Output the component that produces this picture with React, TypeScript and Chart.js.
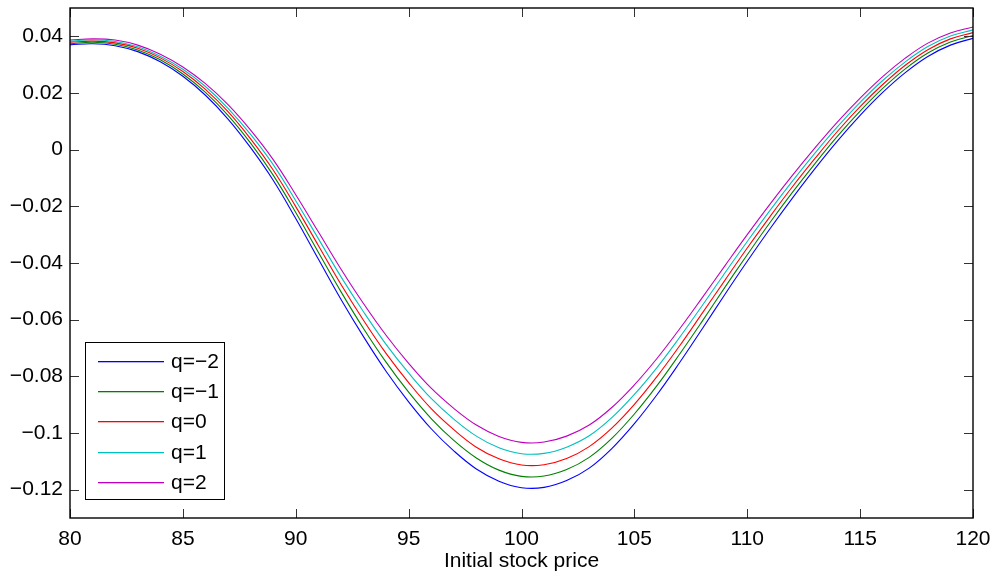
import React, { useEffect, useRef } from "react";
import { Chart, registerables } from "chart.js";

Chart.register(...registerables);

const xValues = [80, 81, 82, 83, 84, 85, 86, 87, 88, 89, 90, 91, 92, 93, 94, 95, 96, 97, 98, 99, 100, 101, 102, 103, 104, 105, 106, 107, 108, 109, 110, 111, 112, 113, 114, 115, 116, 117, 118, 119, 120];

const seriesQm2 = [0.0370, 0.0374, 0.0367, 0.0346, 0.0310, 0.0259, 0.0192, 0.0108, 0.0007, -0.0108, -0.0243, -0.0386, -0.0528, -0.0660, -0.0782, -0.0890, -0.0985, -0.1063, -0.1127, -0.1170, -0.1193, -0.1192, -0.1168, -0.1124, -0.1055, -0.0967, -0.0865, -0.0752, -0.0633, -0.0512, -0.0394, -0.0280, -0.0171, -0.0067, 0.0031, 0.0121, 0.0202, 0.0272, 0.0329, 0.0369, 0.0393];
const seriesQm1 = [0.0374, 0.0379, 0.0372, 0.0352, 0.0317, 0.0267, 0.0202, 0.0121, 0.0023, -0.0090, -0.0222, -0.0362, -0.0501, -0.0631, -0.0750, -0.0856, -0.0949, -0.1026, -0.1088, -0.1131, -0.1153, -0.1152, -0.1129, -0.1086, -0.1019, -0.0933, -0.0833, -0.0722, -0.0606, -0.0487, -0.0371, -0.0258, -0.0151, -0.0049, 0.0048, 0.0136, 0.0216, 0.0285, 0.0341, 0.0380, 0.0403];
const seriesQ0 = [0.0379, 0.0383, 0.0377, 0.0358, 0.0324, 0.0276, 0.0213, 0.0134, 0.0038, -0.0072, -0.0201, -0.0338, -0.0475, -0.0602, -0.0719, -0.0822, -0.0914, -0.0988, -0.1050, -0.1091, -0.1113, -0.1112, -0.1090, -0.1048, -0.0983, -0.0899, -0.0801, -0.0693, -0.0578, -0.0462, -0.0347, -0.0237, -0.0131, -0.0031, 0.0065, 0.0152, 0.0230, 0.0298, 0.0353, 0.0391, 0.0413];
const seriesQ1 = [0.0383, 0.0388, 0.0382, 0.0363, 0.0330, 0.0284, 0.0223, 0.0146, 0.0054, -0.0053, -0.0180, -0.0314, -0.0448, -0.0572, -0.0687, -0.0788, -0.0878, -0.0951, -0.1011, -0.1052, -0.1073, -0.1072, -0.1050, -0.1010, -0.0946, -0.0864, -0.0769, -0.0663, -0.0551, -0.0436, -0.0324, -0.0215, -0.0111, -0.0012, 0.0081, 0.0167, 0.0244, 0.0310, 0.0364, 0.0401, 0.0423];
const seriesQ2 = [0.0387, 0.0391, 0.0387, 0.0369, 0.0337, 0.0292, 0.0233, 0.0159, 0.0069, -0.0035, -0.0159, -0.0290, -0.0421, -0.0543, -0.0655, -0.0754, -0.0842, -0.0913, -0.0972, -0.1012, -0.1033, -0.1032, -0.1011, -0.0972, -0.0910, -0.0830, -0.0737, -0.0633, -0.0523, -0.0411, -0.0300, -0.0193, -0.0091, 0.0006, 0.0098, 0.0182, 0.0258, 0.0323, 0.0376, 0.0412, 0.0433];

const seriesLabels = ["q=\u22122", "q=\u22121", "q=0", "q=1", "q=2"];
const seriesColors = ["#0000ff", "#008000", "#ff0000", "#00bfbf", "#bf00bf"];
const allSeries = [seriesQm2, seriesQm1, seriesQ0, seriesQ1, seriesQ2];

const xTicks = [80, 85, 90, 95, 100, 105, 110, 115, 120];
const yTicks = [-0.12, -0.1, -0.08, -0.06, -0.04, -0.02, 0, 0.02, 0.04];
const xTitle = "Initial stock price";

const FONT = '"Liberation Sans", Arial, Helvetica, sans-serif';

function fmt(v: number): string {
  const r = Math.round(v * 1000) / 1000;
  const s = String(Math.abs(r));
  return r < 0 ? "\u2212" + s : s;
}

const framePlugin = {
  id: "matlabFrame",
  afterDraw(chart: any) {
    const ctx = chart.ctx;
    const { left, right, top, bottom } = chart.chartArea;
    const xs = chart.scales.x;
    const ys = chart.scales.y;
    ctx.save();
    ctx.strokeStyle = "#333";
    ctx.lineWidth = 1;
    const tl = 9;
    ctx.beginPath();
    for (const v of xTicks) {
      const px = Math.round(xs.getPixelForValue(v)) + 0.5;
      ctx.moveTo(px, bottom);
      ctx.lineTo(px, bottom - tl);
      ctx.moveTo(px, top);
      ctx.lineTo(px, top + tl);
    }
    for (const v of yTicks) {
      const py = Math.round(ys.getPixelForValue(v)) + 0.5;
      ctx.moveTo(left, py);
      ctx.lineTo(left + tl, py);
      ctx.moveTo(right, py);
      ctx.lineTo(right - tl, py);
    }
    ctx.stroke();
    ctx.strokeStyle = "#000";
    ctx.lineWidth = 1.4;
    ctx.strokeRect(left, top, right - left, bottom - top);

    // legend
    const lx = left + 15;
    const ly = top + 334;
    const lw = 139;
    const lh = 157;
    ctx.fillStyle = "#fff";
    ctx.fillRect(lx, ly, lw, lh);
    ctx.strokeStyle = "#000";
    ctx.lineWidth = 1;
    ctx.strokeRect(lx + 0.5, ly + 0.5, lw, lh);
    ctx.font = "21px " + FONT;
    ctx.textBaseline = "middle";
    ctx.textAlign = "left";
    seriesLabels.forEach((label, i) => {
      const cy = Math.round(ly + 19 + i * 30.2);
      ctx.fillStyle = seriesColors[i];
      ctx.fillRect(lx + 13, cy, 66, 1.3);
      ctx.fillStyle = "#000";
      ctx.fillText(label, lx + 86, cy + 1);
    });
    ctx.restore();
  },
};

export default function App() {
  const canvasRef = useRef<HTMLCanvasElement | null>(null);

  useEffect(() => {
    if (!canvasRef.current) return;
    const datasets = allSeries.map((s, i) => ({
      label: seriesLabels[i],
      data: s.map((y, j) => ({ x: xValues[j], y })),
      borderColor: seriesColors[i],
      backgroundColor: seriesColors[i],
      borderWidth: 1.1,
      pointRadius: 0,
      tension: 0.4,
      fill: false,
    }));
    const chart = new Chart(canvasRef.current, {
      type: "line",
      data: { datasets },
      options: {
        animation: false,
        responsive: false,
        maintainAspectRatio: false,
        devicePixelRatio: 1,
        layout: { padding: { top: 8, right: 22, left: 0, bottom: 0 } },
        plugins: {
          legend: { display: false },
          tooltip: { enabled: false },
        },
        scales: {
          x: {
            type: "linear",
            min: 80,
            max: 120,
            afterBuildTicks: (scale: any) => {
              scale.ticks = xTicks.map((v) => ({ value: v }));
            },
            afterFit: (scale: any) => {
              scale.height = 58;
              scale.paddingLeft = 0;
              scale.paddingRight = 0;
            },
            grid: { display: false, drawTicks: false },
            border: { display: false },
            ticks: {
              color: "#000",
              font: { family: FONT, size: 21 },
              padding: 9,
              maxRotation: 0,
              autoSkip: false,
              callback: (v: any) => String(v),
            },
            title: {
              display: true,
              text: xTitle,
              color: "#000",
              font: { family: FONT, size: 21 },
              padding: { top: 0, bottom: 2 },
            },
          },
          y: {
            type: "linear",
            min: -0.13,
            max: 0.05,
            afterBuildTicks: (scale: any) => {
              scale.ticks = yTicks.map((v) => ({ value: v }));
            },
            afterFit: (scale: any) => {
              scale.width = 70;
              scale.paddingTop = 0;
              scale.paddingBottom = 0;
            },
            grid: { display: false, drawTicks: false },
            border: { display: false },
            ticks: {
              color: "#000",
              font: { family: FONT, size: 21 },
              padding: 7,
              autoSkip: false,
              callback: (v: any) => fmt(Number(v)),
            },
          },
        },
      },
      plugins: [framePlugin],
    });
    return () => chart.destroy();
  }, []);

  return (
    <div style={{ position: "fixed", left: 0, top: 0, width: 995, height: 576, background: "#fff" }}>
      <canvas ref={canvasRef} width={995} height={576} style={{ display: "block", width: 995, height: 576 }} />
    </div>
  );
}
